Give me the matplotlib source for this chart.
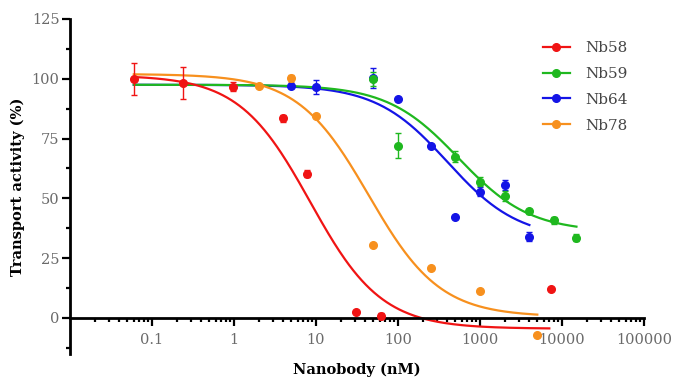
import numpy as np
import matplotlib
matplotlib.use('Agg')
import matplotlib.pyplot as plt
from matplotlib.ticker import MultipleLocator, LogLocator, FixedLocator, NullFormatter
from matplotlib.lines import Line2D

plt.rcParams['font.family'] = ['DejaVu Serif']

# measured points (x in nM, activity in %, error)
nb58_x = [0.06, 0.24, 0.98, 4, 7.8, 31, 62, 7400]
nb58_y = [100, 98.4, 96.7, 83.5, 60.3, 2.5, 0.8, 12.1]
nb58_err = [6.7, 6.7, 2, 1.5, 1.5, 0, 1.2, 0]

nb59_x = [50, 100, 500, 1000, 2000, 4000, 8000, 15000]
nb59_y = [100, 72, 67.5, 57, 51, 44.6, 40.8, 33.5]
nb59_err = [3, 5.2, 2.2, 2, 2, 1, 1.5, 1.5]

nb64_x = [5, 10, 50, 100, 250, 500, 1000, 2000, 4000]
nb64_y = [97.1, 96.7, 100.3, 91.5, 72, 42.3, 52.8, 55.7, 34]
nb64_err = [0, 3, 4.2, 0, 0, 0, 2, 2, 2]

nb78_x = [2, 5, 10, 50, 250, 1000, 5000]
nb78_y = [97.1, 100.2, 84.3, 30.6, 21, 11.3, -7]
nb78_err = [0, 1.5, 0, 0, 0, 0, 0]

# fitted dose-response parameters: top, bottom, IC50, hill, curve start, curve end
nb58_fit = [101.5, -4.5, 8.5, 1.0, 0.06, 7000]
nb59_fit = [97.5, 36, 550, 1.0, 0.06, 15000]
nb64_fit = [97.5, 33, 400, 1.0, 0.06, 4000]
nb78_fit = [102, 0.5, 44, 1.0, 0.06, 5000]

labels = ['Nb58', 'Nb59', 'Nb64', 'Nb78']
colors = ['#f01414', '#1fb81f', '#1414e6', '#f7901e']


def four_pl(x, top, bottom, ic50, hill):
    return bottom + (top - bottom) / (1 + (x / ic50) ** hill)


fig = plt.figure(figsize=(6.73, 3.79), dpi=100)
ax = fig.add_axes([70/673, 1 - 353.8/379, 574/673, 334.8/379])

series = {
    'Nb58': (nb58_x, nb58_y, nb58_err, nb58_fit),
    'Nb59': (nb59_x, nb59_y, nb59_err, nb59_fit),
    'Nb64': (nb64_x, nb64_y, nb64_err, nb64_fit),
    'Nb78': (nb78_x, nb78_y, nb78_err, nb78_fit),
}
col = dict(zip(labels, colors))

for name in ['Nb64', 'Nb59', 'Nb78', 'Nb58']:
    x, y, err, fit = series[name]
    xs = np.logspace(np.log10(fit[4]), np.log10(fit[5]), 300)
    ax.plot(xs, four_pl(xs, *fit[:4]), color=col[name], lw=1.6, zorder=2)
    ax.errorbar(x, y, yerr=err, fmt='o', color=col[name], ms=5.5,
                elinewidth=1, capsize=2.5, capthick=1, zorder=3)

ax.set_xscale('log')
ax.set_xlim(0.01, 100000)
ax.set_ylim(-15, 125)

ax.spines['top'].set_visible(False)
ax.spines['right'].set_visible(False)
ax.spines['bottom'].set_position(('data', 0))
ax.spines['left'].set_linewidth(2)
ax.spines['bottom'].set_linewidth(2)

ax.xaxis.set_major_locator(FixedLocator([0.1, 1, 10, 100, 1000, 10000, 100000]))
ax.set_xticklabels(['0.1', '1', '10', '100', '1000', '10000', '100000'])
ax.xaxis.set_minor_locator(LogLocator(base=10, subs=np.arange(2, 10)))
ax.xaxis.set_minor_formatter(NullFormatter())
ax.yaxis.set_major_locator(FixedLocator([0, 25, 50, 75, 100, 125]))
ax.yaxis.set_minor_locator(MultipleLocator(12.5))

ax.tick_params(axis='both', which='major', length=5.5, width=1.6,
               labelsize=10.5, labelcolor='#6a6a6a', pad=5)
ax.tick_params(axis='both', which='minor', length=3, width=1.6)
ax.tick_params(axis='y', which='major', pad=2)

ax.set_xlabel('Nanobody (nM)', fontsize=10.5, fontweight='bold')
ax.set_ylabel('Transport activity (%)', fontsize=10.5, fontweight='bold')
ax.xaxis.set_label_coords(0.5, -0.025)
ax.yaxis.set_label_coords(-0.078, 0.5)

handles = [Line2D([], [], color=c, lw=1.6, marker='o', ms=5.5) for c in colors]
fig.legend(handles, labels, loc='upper left', bbox_to_anchor=(543/673, 1 - 41/379),
           frameon=False, fontsize=11, handlelength=1.75, handletextpad=1.0,
           labelspacing=0.78, borderpad=0, borderaxespad=0, labelcolor='#444444')

fig.savefig('out.png', dpi=100)
